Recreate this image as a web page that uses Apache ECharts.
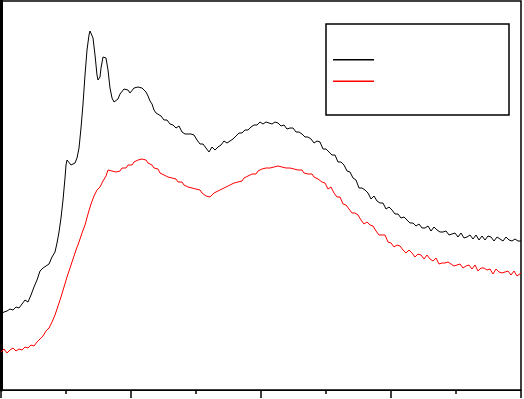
<!DOCTYPE html>
<html><head><meta charset="utf-8">
<script src="https://cdn.jsdelivr.net/npm/echarts@6/dist/echarts.min.js"></script>
<style>html,body{margin:0;padding:0;background:#fff}#c{width:524px;height:399px}</style>
</head><body><div id="c"></div>
<script>
var blackX = [0,3,6,9,12,15,18,21,24,27,30,33,36,39,42,45,48,51,54,56,58,60,62,64,65,66,68,70,72,74,76,78,80,82,84,86,88,89,90,92,94,96,97,99,100,102,103,105,107,109,111,113,115,117,119,121,123,125,127,129,131,133,135,137,139,141,143,145,147,149,151,153,155,157,160,163,166,169,172,175,178,181,184,187,190,193,196,199,202,205,208,211,214,217,220,223,226,229,232,235,238,241,244,247,250,253,256,259,262,265,268,271,274,277,280,283,286,289,292,295,298,301,304,307,310,313,316,319,322,325,328,331,334,337,340,343,346,349,352,355,358,361,364,367,370,373,376,379,382,385,388,391,394,397,400,403,406,409,412,415,418,421,424,427,430,433,436,439,442,445,448,451,454,457,460,463,466,469,472,475,478,481,484,487,490,493,496,499,502,505,508,511,514,517,520];
var blackY = [76,78,79,81,80,83,82,86,90,88,95,103,110,119,122,124,126,133,138,147,158,172,190,212,225,230,228,225,226,227,232,242,262,286,315,340,355,359,358,352,335,315,310,313,322,333,335,332,320,302,292,288,287,291,296,298,301,299,300,297,299,302,300,303,304,302,300,298,294,289,286,280,277,275,
  274,270,270,266,265,262,264,258,256,256,256,255,250,246,246,242,238,243,240,243,245,249,247,249,251,254,257,257,260,260,263,265,265,268,266,268,267,266,268,267,264,265,261,262,262,258,258,256,253,253,251,247,249,248,241,241,238,235,235,228,228,225,219,218,212,210,202,202,200,197,191,194,189,187,187,181,183,180,176,176,172,173,170,167,167,164,166,162,162,164,159,163,160,158,158,159,155,156,157,153,157,152,153,155,151,155,150,154,150,154,153,149,153,151,149,153,150,149,151,149,149];
var redX = [0,3,6,9,12,15,18,21,24,27,30,33,36,39,42,45,48,51,54,57,60,63,66,69,72,75,78,81,84,87,90,93,96,99,102,105,107,109,111,113,115,117,119,121,123,125,127,129,131,133,135,137,139,141,143,145,147,149,151,153,155,157,159,161,163,165,167,169,171,173,175,177,179,181,183,185,187,189,191,193,195,197,199,201,203,205,207,209,211,213,215,217,219,221,223,225,227,229,231,233,235,237,239,241,243,245,247,249,251,253,255,257,259,261,263,265,267,269,271,273,275,277,279,281,283,285,287,289,291,293,295,297,299,301,303,305,307,309,311,313,315,317,319,321,324,327,330,333,336,339,342,345,348,351,354,357,360,363,366,369,372,375,378,381,384,387,390,393,396,399,402,405,408,411,414,417,420,423,426,429,432,435,438,441,444,447,450,453,456,459,462,465,468,471,474,477,480,483,486,489,492,495,498,501,504,507,510,513,516,520];
var redY = [38,41,37,40,42,39,41,40,43,42,45,44,48,51,54,59,62,68,75,84,93,103,113,122,131,140,148,157,165,176,186,194,200,203,209,214,220,218,219,217,218,220,219,222,223,222,225,226,225,228,227,230,229,231,229,230,227,228,225,222,220,221,217,218,215,216,213,214,212,210,211,208,207,208,205,206,203,204,202,200,201,199,200,197,196,194,195,193,195,197,196,199,198,201,202,203,202,205,204,207,206,208,210,209,212,212,214,213,216,217,216,219,219,221,220,222,223,222,224,223,225,224,225,223,224,222,224,222,223,221,222,220,219,220,217,218,216,215,216,213,214,211,209,
  208,207,201,203,197,193,193,186,185,181,177,177,175,170,166,168,165,164,159,155,155,155,148,147,143,145,144,140,137,140,137,133,136,135,131,135,131,129,132,126,127,127,128,126,124,125,126,122,124,125,121,125,119,122,122,120,121,116,121,118,117,118,119,115,119,114,117];
var xTicks = [0,130,260,390,520];

function pairs(xs, ys){ return xs.map(function(x,i){ return [x, ys[i]]; }); }

var chart = echarts.init(document.getElementById('c'), null, {renderer:'canvas'});
chart.setOption({
  animation:false,
  backgroundColor:'#fff',
  grid:{left:1, right:3, top:1, bottom:9, show:true, borderColor:'#000', borderWidth:1.5, backgroundColor:'transparent'},
  legend:{
    left:326, top:24, orient:'vertical', selectedMode:false,
    borderColor:'#000', borderWidth:1.5, backgroundColor:'#fff',
    padding:[35,130,33,7], itemGap:20, itemWidth:41, itemHeight:1.5, icon:'rect',
    formatter:function(){return '';},
    textStyle:{fontSize:2, lineHeight:2, padding:0},
    data:['A','B']
  },
  xAxis:{type:'value', min:xTicks[0], max:xTicks[xTicks.length-1], interval:130,
    axisLine:{show:true, lineStyle:{color:'#000', width:1}},
    axisTick:{show:true, inside:false, length:8, lineStyle:{color:'#000', width:1.5}},
    minorTick:{show:true, splitNumber:2, length:4, lineStyle:{color:'#000', width:1.5}},
    axisLabel:{show:false}, splitLine:{show:false}},
  yAxis:{type:'value', min:0, max:389,
    axisLine:{show:true, lineStyle:{color:'#000', width:3}},
    axisTick:{show:false}, axisLabel:{show:false}, splitLine:{show:false}},
  series:[
    {name:'A', type:'line', data:pairs(blackX, blackY), showSymbol:false, symbol:'none', lineStyle:{color:'#000', width:1}, itemStyle:{color:'#000'}},
    {name:'B', type:'line', data:pairs(redX, redY), showSymbol:false, symbol:'none', lineStyle:{color:'#ff0000', width:1}, itemStyle:{color:'#ff0000'}}
  ]
});
</script></body></html>
